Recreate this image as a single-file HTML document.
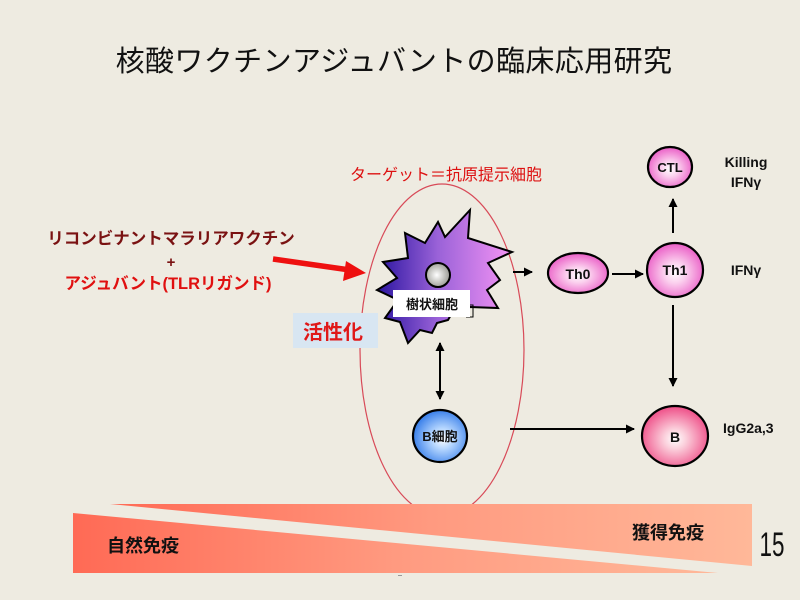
<!DOCTYPE html>
<html><head><meta charset="utf-8"><style>
html,body{margin:0;padding:0;background:#eeebe1;}
svg{display:block;}
text{font-family:"Liberation Sans","Noto Sans CJK JP",sans-serif;}
</style></head><body>
<svg width="800" height="600" viewBox="0 0 800 600" xmlns="http://www.w3.org/2000/svg">
<defs>
<linearGradient id="band" x1="0" x2="1" y1="0" y2="0">
<stop offset="0" stop-color="#ff6a55"/><stop offset="0.5" stop-color="#ff9a80"/><stop offset="1" stop-color="#ffb899"/>
</linearGradient>
<linearGradient id="star" x1="0" x2="1" y1="0" y2="0">
<stop offset="0" stop-color="#2a14a0"/><stop offset="0.45" stop-color="#9a62d8"/><stop offset="1" stop-color="#f594f5"/>
</linearGradient>
<radialGradient id="nuc" cx="0.45" cy="0.5" r="0.6">
<stop offset="0" stop-color="#ffffff"/><stop offset="1" stop-color="#909088"/>
</radialGradient>
<radialGradient id="pink" cx="0.5" cy="0.55" r="0.55">
<stop offset="0" stop-color="#ffffff"/><stop offset="0.35" stop-color="#fbd0ee"/><stop offset="1" stop-color="#ea5cc6"/>
</radialGradient>
<radialGradient id="pinkB" cx="0.5" cy="0.55" r="0.55">
<stop offset="0" stop-color="#ffffff"/><stop offset="0.3" stop-color="#fbd0dc"/><stop offset="1" stop-color="#ee4c86"/>
</radialGradient>
<radialGradient id="blue" cx="0.55" cy="0.55" r="0.55">
<stop offset="0" stop-color="#ffffff"/><stop offset="0.35" stop-color="#b8d8ff"/><stop offset="1" stop-color="#3a80ea"/>
</radialGradient>
<marker id="ah" markerWidth="9" markerHeight="9" refX="8" refY="4.5" orient="auto" markerUnits="userSpaceOnUse">
<path d="M0,0 L9,4.5 L0,9 z" fill="#000"/>
</marker>
<marker id="ahs" markerWidth="9" markerHeight="9" refX="1" refY="4.5" orient="auto" markerUnits="userSpaceOnUse">
<path d="M9,0 L0,4.5 L9,9 z" fill="#000"/>
</marker>
</defs>

<text x="394" y="71" font-size="29" text-anchor="middle" fill="#111" letter-spacing="0.4">核酸ワクチンアジュバントの臨床応用研究</text>

<!-- target ellipse -->
<ellipse cx="442" cy="350" rx="82" ry="166" fill="none" stroke="#d84a58" stroke-width="1.2"/>
<text x="446" y="180" font-size="16" text-anchor="middle" fill="#dd1111">ターゲット＝抗原提示細胞</text>

<!-- left texts -->
<text x="171" y="244" font-size="16.5" font-weight="bold" text-anchor="middle" fill="#7a1212">リコンビナントマラリアワクチン</text>
<text x="171" y="267" font-size="15" font-weight="bold" text-anchor="middle" fill="#7a1212">+</text>
<text x="168" y="289" font-size="16.5" font-weight="bold" text-anchor="middle" fill="#e01010">アジュバント(TLRリガンド)</text>

<!-- red arrow -->
<line x1="273" y1="259" x2="350" y2="270" stroke="#ee1010" stroke-width="5.5"/>
<polygon points="366,273 346,261 343,281" fill="#ee1010"/>

<!-- activation box -->
<rect x="293" y="313" width="85" height="35" fill="#d8e6f2"/>
<text x="333" y="339" font-size="20" font-weight="bold" text-anchor="middle" fill="#e01818">活性化</text>

<!-- dendritic cell star -->
<polygon points="405,233 425,243 438,222 445,237 470,210 468,238 512,252 488,263 500,280 487,290 498,308 470,307 452,313 448,320 437,323 432,333 420,330 408,343 400,322 385,318 398,300 377,290 397,278 383,262 408,258" fill="url(#star)" stroke="#000" stroke-width="2" stroke-linejoin="miter"/>
<circle cx="438" cy="275" r="12" fill="url(#nuc)" stroke="#000" stroke-width="2"/>
<path d="M468,305 L473,305 L473,317 L466,317" fill="none" stroke="#000" stroke-width="1"/>
<rect x="393" y="290" width="77" height="27" fill="#fff"/>
<text x="432" y="309" font-size="13" font-weight="bold" text-anchor="middle" fill="#111">樹状細胞</text>

<!-- arrows -->
<line x1="513" y1="272" x2="532" y2="272" stroke="#000" stroke-width="2" marker-end="url(#ah)"/>
<line x1="612" y1="274" x2="643" y2="274" stroke="#000" stroke-width="2" marker-end="url(#ah)"/>
<line x1="673" y1="233" x2="673" y2="199" stroke="#000" stroke-width="2" marker-end="url(#ah)"/>
<line x1="673" y1="305" x2="673" y2="386" stroke="#000" stroke-width="2" marker-end="url(#ah)"/>
<line x1="440" y1="343" x2="440" y2="399" stroke="#000" stroke-width="2" marker-start="url(#ahs)" marker-end="url(#ah)"/>
<line x1="510" y1="429" x2="634" y2="429" stroke="#000" stroke-width="2" marker-end="url(#ah)"/>

<!-- cells -->
<ellipse cx="578" cy="273" rx="30" ry="20" fill="url(#pink)" stroke="#000" stroke-width="2.2"/>
<text x="578" y="279" font-size="14" font-weight="bold" text-anchor="middle" fill="#111">Th0</text>
<ellipse cx="675" cy="270" rx="28" ry="27" fill="url(#pink)" stroke="#000" stroke-width="2.2"/>
<text x="675" y="275" font-size="14" font-weight="bold" text-anchor="middle" fill="#111">Th1</text>
<ellipse cx="670" cy="167" rx="22" ry="20" fill="url(#pink)" stroke="#000" stroke-width="2.2"/>
<text x="670" y="172" font-size="13" font-weight="bold" text-anchor="middle" fill="#111">CTL</text>
<ellipse cx="440" cy="436" rx="27" ry="26" fill="url(#blue)" stroke="#000" stroke-width="2.2"/>
<text x="440" y="441" font-size="13" font-weight="bold" text-anchor="middle" fill="#111">B細胞</text>
<ellipse cx="675" cy="436" rx="33" ry="30" fill="url(#pinkB)" stroke="#000" stroke-width="2.2"/>
<text x="675" y="442" font-size="14" font-weight="bold" text-anchor="middle" fill="#111">B</text>

<!-- right labels -->
<text x="746" y="167" font-size="14" font-weight="bold" text-anchor="middle" fill="#111">Killing</text>
<text x="746" y="187" font-size="14" font-weight="bold" text-anchor="middle" fill="#111">IFNγ</text>
<text x="746" y="275" font-size="14" font-weight="bold" text-anchor="middle" fill="#111">IFNγ</text>
<text x="723" y="433" font-size="14" font-weight="bold" fill="#111">IgG2a,3</text>

<!-- bottom band -->
<polygon points="110,504 752,504 752,566" fill="url(#band)"/>
<polygon points="73,513 73,573 718,573" fill="url(#band)"/>
<text x="143" y="552" font-size="18" font-weight="bold" text-anchor="middle" fill="#111">自然免疫</text>
<text x="668" y="539" font-size="18" font-weight="bold" text-anchor="middle" fill="#111">獲得免疫</text>
<text x="772" y="556" font-size="34" text-anchor="middle" fill="#111" transform="translate(772 0) scale(0.66 1) translate(-772 0)">15</text>
<rect x="398" y="575" width="4" height="1" fill="#999"/>
</svg>
</body></html>
